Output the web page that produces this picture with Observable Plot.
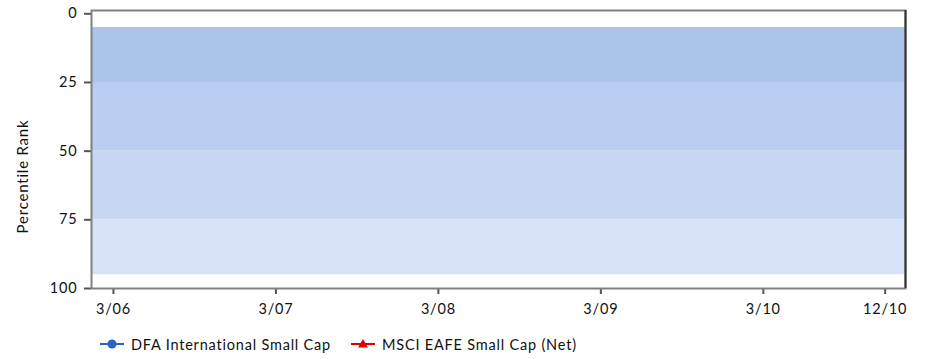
<!DOCTYPE html>
<html>
<head>
<meta charset="utf-8">
<script src="https://cdn.jsdelivr.net/npm/d3@7"></script>
<script src="https://cdn.jsdelivr.net/npm/@observablehq/plot@0.6"></script>
<style>
  body { margin: 0; background: #fff; font-family: Lato, "Open Sans", sans-serif; }
  #chart { width: 930px; }
  .legend { display: flex; align-items: center; height: 34px; padding-top: 2px; padding-left: 100px; font-size: 14.5px; letter-spacing: 0.8px; color: #111; }
  .legend .item { display: flex; align-items: center; margin-right: 20px; }
  .legend svg { margin-right: 7px; }
  svg text { letter-spacing: 0.8px; }
</style>
</head>
<body>
<div id="chart"></div>
<script>
// Quarter index: 0 = 3/06 ... 19 = 12/10
const tickQuarters = [0, 4, 8, 12, 16, 19];
const tickLabels = ["3/06", "3/07", "3/08", "3/09", "3/10", "12/10"];
const xDomain = [-0.54, 19.5];
const yDomain = [-1.2, 100];
const yTicks = [0, 25, 50, 75, 100];

// Percentile bands (5th-25th, 25th-median, median-75th, 75th-95th)
const bandLow = [5, 25, 50, 75];
const bandHigh = [25, 50, 75, 95];
const bandColors = ["#aac4ec", "#b9cdf0", "#c5d7f1", "#d5e2f7"];

// Series (no observations plotted in the reference)
const seriesNames = ["DFA International Small Cap", "MSCI EAFE Small Cap (Net)"];
const seriesColors = ["#2563c9", "#e00000"];
const dfaValues = [];
const msciValues = [];

const bands = bandLow.map((lo, i) => ({lo, hi: bandHigh[i], color: bandColors[i]}));

const chart = Plot.plot({
  width: 930,
  height: 325,
  marginTop: 10,
  marginBottom: 37,
  marginLeft: 91,
  marginRight: 25,
  style: {fontFamily: "Lato, 'Open Sans', sans-serif", fontSize: "14.5px", color: "#111", background: "#fff"},
  x: {
    domain: xDomain,
    ticks: tickQuarters,
    tickFormat: d => tickLabels[tickQuarters.indexOf(d)],
    tickSize: 6,
    tickPadding: 9,
    label: null
  },
  y: {
    domain: yDomain,
    reverse: true,
    ticks: yTicks,
    tickSize: 7,
    tickPadding: 7,
    label: "Percentile Rank",
    labelArrow: "none",
    labelAnchor: "center",
    labelOffset: 74
  },
  marks: [
    Plot.rect(bands, {y1: "lo", y2: "hi", fill: "color"}),
    Plot.frame({stroke: "#808080", strokeWidth: 2}),
    Plot.ruleX([xDomain[1]], {stroke: "#333", strokeWidth: 2}),
    Plot.line(dfaValues, {x: "q", y: "rank", stroke: seriesColors[0], marker: "circle"}),
    Plot.line(msciValues, {x: "q", y: "rank", stroke: seriesColors[1]})
  ]
});
chart.querySelectorAll("[aria-label='x-axis tick'] path, [aria-label='y-axis tick'] path").forEach(p => { p.setAttribute("stroke", "#555"); p.setAttribute("stroke-width", "2"); });
chart.querySelectorAll("[aria-label='y-axis label'] text").forEach(t => {
  t.style.fontSize = "15px";
  t.textContent = t.textContent.replace(/^[←↑↓→]\s*/, "");
  t.setAttribute("dx", "-27");
});
document.getElementById("chart").append(chart);

// Legend
const legend = document.createElement("div");
legend.className = "legend";
seriesNames.forEach((name, i) => {
  const item = document.createElement("div");
  item.className = "item";
  const sym = i === 0
    ? `<circle cx="12" cy="6" r="4.5" fill="${seriesColors[i]}"/>`
    : `<path d="M12,1 L17,9.5 L7,9.5 Z" fill="${seriesColors[i]}"/>`;
  item.innerHTML = `<svg width="24" height="12"><line x1="0" y1="6" x2="24" y2="6" stroke="${seriesColors[i]}" stroke-width="2"/>${sym}</svg><span>${name}</span>`;
  legend.append(item);
});
document.getElementById("chart").append(legend);
</script>
</body>
</html>
